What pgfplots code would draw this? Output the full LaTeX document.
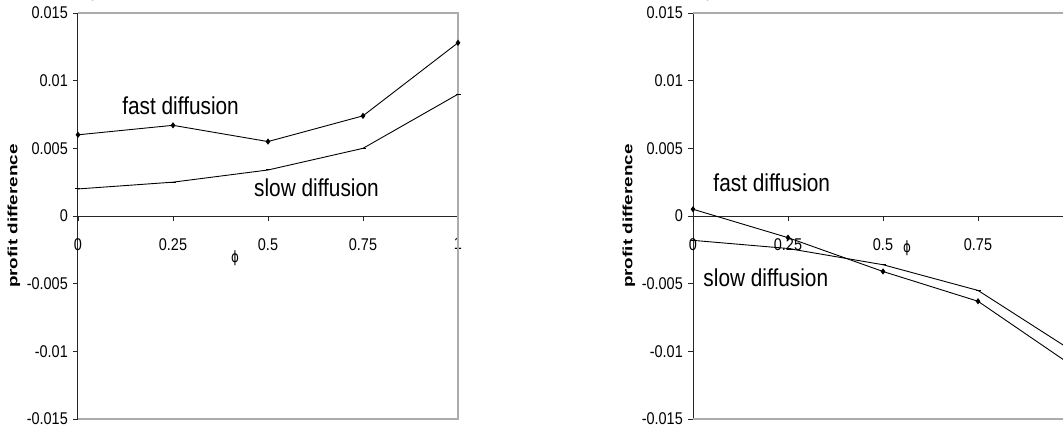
\documentclass[border=0pt]{standalone}
\usepackage{fontspec}
\setmainfont{Liberation Sans}[FakeStretch=0.85]
\newfontfamily\ylfont{Liberation Sans}[FakeStretch=1.4]
\newfontfamily\dejavu{DejaVu Sans}[FakeStretch=0.77]
\usepackage{pgfplots}
\pgfplotsset{compat=1.18}

\pgfplotstableread{
x fast slow
0    0.0060 0.0020
0.25 0.0067 0.0025
0.5  0.0055 0.0034
0.75 0.0074 0.0050
1    0.0128 0.0090
}\leftdata

\pgfplotstableread{
x fast slow
0    0.0005  -0.0018
0.25 -0.0016 -0.0024
0.5  -0.0041 -0.0036
0.75 -0.0063 -0.0055
1    -0.0111 -0.0100
}\rightdata

\pgfplotsset{
  panel/.style={
    scale only axis, width=380pt, height=406pt,
    xmin=0, xmax=1, ymin=-0.015, ymax=0.015,
    axis x line*=middle, axis y line*=left,
    hide obscured x ticks=false, hide obscured y ticks=false,
    xtick={0,0.25,0.5,0.75,1}, xticklabels={0,0.25,0.5,0.75,1},
    ytick={-0.015,-0.01,-0.005,0,0.005,0.01,0.015},
    yticklabels={-0.015,-0.01,-0.005,0,0.005,0.01,0.015},
    tick align=outside, major tick length=5pt,
    tick style={black!85, line width=0.8pt},
    axis line style={black!85, line width=1pt},
    xticklabel style={font=\fontsize{17}{17}\selectfont, anchor=north, inner sep=0pt, yshift=-17pt},
    yticklabel style={font=\fontsize{17}{17}\selectfont, anchor=east, inner sep=0pt, xshift=-5pt},
    clip=false,
  },
  fast/.style={black, line width=0.9pt, mark=diamond*, mark size=2.4pt, mark options={solid, fill=black}},
  slow/.style={black, line width=0.9pt, mark=-, mark size=2.5pt, mark options={solid, line width=1pt}},
}

\newcommand{\lbl}{\fontsize{24.5}{24.5}\selectfont}
\newcommand{\ylbl}{\ylfont\bfseries\fontsize{13.5}{13.5}\selectfont}
\newcommand{\phifont}{\dejavu\fontsize{15.5}{15.5}\selectfont}

\begin{document}
\begin{tikzpicture}
% left panel
\begin{axis}[panel, at={(78pt,13pt)}, anchor=south west]
  \draw[gray!65, line width=1.3pt] (rel axis cs:0,1) -- (rel axis cs:1,1) -- (rel axis cs:1,0) -- (rel axis cs:0,0);
  \addplot[fast] table[x=x, y=fast] {\leftdata};
  \addplot[slow] table[x=x, y=slow] {\leftdata};
  \node[anchor=base west, inner sep=0pt, font=\lbl] at (axis cs:0.116,0.00753) {fast diffusion};
  \node[anchor=base west, inner sep=0pt, font=\lbl] at (axis cs:0.463,0.00143) {slow diffusion};
  \node[inner sep=0pt, font=\phifont] at (axis cs:0.413,-0.0031) {ϕ};
  \node[inner sep=0pt, font=\ylbl, rotate=90] at ([xshift=-64pt]rel axis cs:0,0.5) {profit difference};
\end{axis}
% right panel
\begin{axis}[panel, at={(693pt,13pt)}, anchor=south west]
  \draw[gray!65, line width=1.3pt] (rel axis cs:0,1) -- (rel axis cs:1,1) -- (rel axis cs:1,0) -- (rel axis cs:0,0);
  \addplot[fast] table[x=x, y=fast] {\rightdata};
  \addplot[slow] table[x=x, y=slow] {\rightdata};
  \node[anchor=base west, inner sep=0pt, font=\lbl] at (axis cs:0.0534,0.0018) {fast diffusion};
  \node[anchor=base west, inner sep=0pt, font=\lbl] at (axis cs:0.027,-0.00522) {slow diffusion};
  \node[inner sep=0pt, font=\phifont] at (axis cs:0.563,-0.00236) {ϕ};
  \node[inner sep=0pt, font=\ylbl, rotate=90] at ([xshift=-64pt]rel axis cs:0,0.5) {profit difference};
\end{axis}
\pgfresetboundingbox
\useasboundingbox (0,0) rectangle (1063pt,432pt);
\end{tikzpicture}
\end{document}
